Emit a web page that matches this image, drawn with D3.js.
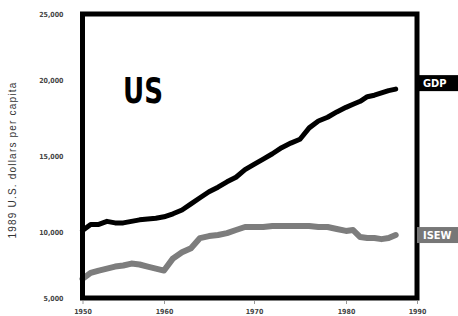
<!DOCTYPE html>
<html>
<head>
<meta charset="utf-8">
<script src="https://cdn.jsdelivr.net/npm/d3@7"></script>
<style>
  body { margin: 0; background: #fff; }
  svg { display: block; }
</style>
</head>
<body>
<svg id="chart"></svg>
<script>
const years = d3.range(1950, 1988);

const gdp = [10100, 10500, 10500, 10700, 10600, 10600, 10700, 10800, 10850, 10900,
             11000, 11200, 11450, 11850, 12250, 12650, 12950, 13300, 13600, 14100,
             14450, 14800, 15150, 15550, 15850, 16100, 16850, 17300, 17550, 17900,
             18200, 18400, 18600, 18900, 19000, 19150, 19300, 19400];

const isew = [6450, 6900, 7080, 7230, 7380, 7460, 7610, 7540, 7380, 7230,
              7080, 8000, 8460, 8770, 9540, 9690, 9770, 9920, 10130, 10330,
              10330, 10330, 10400, 10400, 10400, 10400, 10400, 10330, 10330, 10200,
              10070, 10130, 9620, 9540, 9540, 9460, 9540, 9770];

const yTicks = [5000, 10000, 15000, 20000, 25000];
const xTicks = [1950, 1960, 1970, 1980, 1990];
const seriesLabels = ["GDP", "ISEW"];

const W = 458, H = 316;
const svg = d3.select("#chart").attr("width", W).attr("height", H);

// the printed axes are not quite even, so follow the tick positions
const x = d3.scaleLinear().domain(xTicks).range([82.5, 164, 254, 346, 417]);
const y = d3.scaleLinear().domain(yTicks).range([298, 232, 156, 80, 14]);

const narrow = "'Liberation Sans Narrow', 'Arial Narrow', 'DejaVu Sans Condensed', sans-serif";

const line = d3.line()
    .x((d, i) => x(years[i]))
    .y(d => y(d));

// ISEW
svg.append("path")
    .datum(isew)
    .attr("d", line)
    .attr("fill", "none")
    .attr("stroke", "#7d7d7d")
    .attr("stroke-width", 6)
    .attr("stroke-linejoin", "round")
    .attr("stroke-linecap", "round");

// GDP
svg.append("path")
    .datum(gdp)
    .attr("d", line)
    .attr("fill", "none")
    .attr("stroke", "#000")
    .attr("stroke-width", 5)
    .attr("stroke-linejoin", "round")
    .attr("stroke-linecap", "round");

// frame
svg.append("rect")
    .attr("x", x(1950))
    .attr("y", y(25000))
    .attr("width", x(1990) - x(1950))
    .attr("height", y(5000) - y(25000))
    .attr("fill", "none")
    .attr("stroke", "#000")
    .attr("stroke-width", 5);

// y axis
const yAxis = svg.append("g")
    .attr("transform", `translate(${x(1950) - 6},0)`)
    .call(d3.axisLeft(y).tickValues(yTicks).tickFormat(d3.format(",")).tickSize(0).tickPadding(13));
yAxis.select(".domain").remove();
yAxis.selectAll("text")
    .style("font-family", narrow)
    .style("font-size", "7px")
    .style("font-weight", "bold")
    .attr("fill", "#444");

// x axis
const xAxis = svg.append("g")
    .attr("transform", `translate(0,${y(5000) + 3})`)
    .call(d3.axisBottom(x).tickValues(xTicks).tickFormat(d3.format("d")).tickSize(3).tickPadding(5));
xAxis.select(".domain").remove();
xAxis.selectAll("line").attr("stroke", "#999");
xAxis.selectAll("text")
    .style("font-family", narrow)
    .style("font-size", "7px")
    .style("font-weight", "bold")
    .attr("fill", "#444");

// y axis title
svg.append("text")
    .attr("transform", "translate(16,160) rotate(-90)")
    .attr("text-anchor", "middle")
    .style("font-family", "'Liberation Sans', Arial, sans-serif")
    .style("font-size", "10px")
    .style("letter-spacing", "1.2px")
    .attr("fill", "#333")
    .text("1989 U.S. dollars per capita");

// big title
svg.append("text")
    .attr("x", 123)
    .attr("y", 103)
    .attr("textLength", 40)
    .attr("lengthAdjust", "spacingAndGlyphs")
    .style("font-family", narrow)
    .style("font-size", "36px")
    .style("font-weight", "bold")
    .attr("fill", "#000")
    .text("US");

// series tags at the right
const tags = [
    { name: seriesLabels[0], value: gdp[gdp.length - 1], fill: "#000", dy: -6 },
    { name: seriesLabels[1], value: isew[isew.length - 1], fill: "#777", dy: 0 }
];
tags.forEach(t => {
    const cy = y(t.value) + t.dy;
    svg.append("rect")
        .attr("x", x(1990))
        .attr("y", cy - 8)
        .attr("width", W - x(1990))
        .attr("height", 16)
        .attr("fill", t.fill);
    svg.append("text")
        .attr("x", x(1990) + 6)
        .attr("y", cy + 4)
        .style("font-family", narrow)
        .style("font-size", "11px")
        .style("font-weight", "bold")
        .attr("fill", "#fff")
        .text(t.name);
});
</script>
</body>
</html>
